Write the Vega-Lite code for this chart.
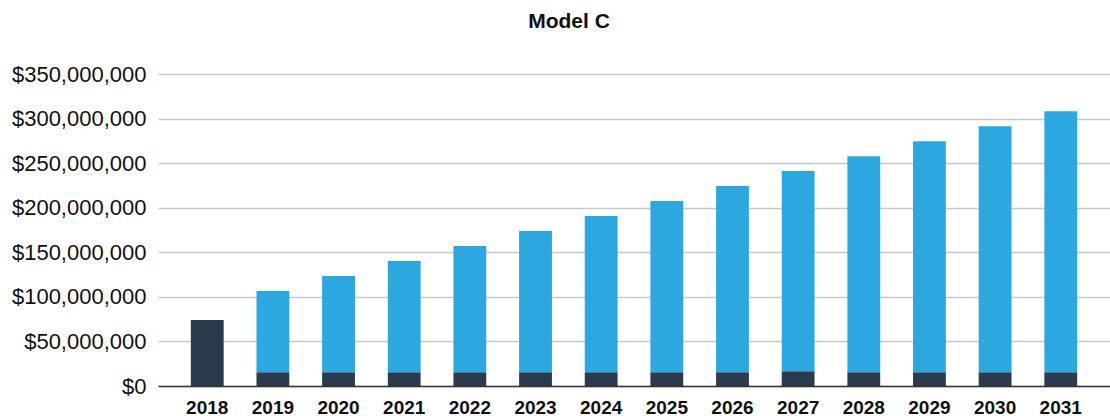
{
  "$schema": "https://vega.github.io/schema/vega-lite/v6.json",
  "autosize": "none",
  "width": 952,
  "height": 312,
  "padding": {"left": 158, "top": 74, "right": 0, "bottom": 30},
  "background": "white",
  "title": {
    "text": "Model C",
    "font": "Liberation Sans",
    "fontSize": 21,
    "fontWeight": "bold",
    "color": "#111111",
    "anchor": "middle",
    "frame": "group",
    "baseline": "alphabetic",
    "offset": 14,
    "dx": -65
  },
  "data": {
    "values": [
      {"year": "2018", "series": "Base", "value": 74000000},
      {"year": "2019", "series": "Base", "value": 15500000},
      {"year": "2019", "series": "Growth", "value": 91200000},
      {"year": "2020", "series": "Base", "value": 15500000},
      {"year": "2020", "series": "Growth", "value": 108000000},
      {"year": "2021", "series": "Base", "value": 15500000},
      {"year": "2021", "series": "Growth", "value": 124800000},
      {"year": "2022", "series": "Base", "value": 15500000},
      {"year": "2022", "series": "Growth", "value": 141600000},
      {"year": "2023", "series": "Base", "value": 15500000},
      {"year": "2023", "series": "Growth", "value": 158400000},
      {"year": "2024", "series": "Base", "value": 15500000},
      {"year": "2024", "series": "Growth", "value": 175300000},
      {"year": "2025", "series": "Base", "value": 15500000},
      {"year": "2025", "series": "Growth", "value": 192100000},
      {"year": "2026", "series": "Base", "value": 15500000},
      {"year": "2026", "series": "Growth", "value": 208900000},
      {"year": "2027", "series": "Base", "value": 16600000},
      {"year": "2027", "series": "Growth", "value": 224500000},
      {"year": "2028", "series": "Base", "value": 15500000},
      {"year": "2028", "series": "Growth", "value": 242300000},
      {"year": "2029", "series": "Base", "value": 15500000},
      {"year": "2029", "series": "Growth", "value": 259100000},
      {"year": "2030", "series": "Base", "value": 15500000},
      {"year": "2030", "series": "Growth", "value": 275900000},
      {"year": "2031", "series": "Base", "value": 15500000},
      {"year": "2031", "series": "Growth", "value": 292700000}
    ]
  },
  "mark": {"type": "bar"},
  "encoding": {
    "x": {
      "field": "year",
      "type": "ordinal",
      "scale": {"paddingInner": 0.5, "paddingOuter": 0.5},
      "axis": {
        "title": null,
        "labelAngle": 0,
        "labelFont": "Liberation Sans",
        "labelFontSize": 19,
        "labelFontWeight": "bold",
        "labelColor": "#111111",
        "labelPadding": 12,
        "ticks": false,
        "domain": true,
        "domainColor": "#333333",
        "domainWidth": 1.5,
        "grid": false
      }
    },
    "y": {
      "field": "value",
      "type": "quantitative",
      "stack": "zero",
      "scale": {"domain": [0, 350000000], "nice": false},
      "axis": {
        "title": null,
        "values": [0, 50000000, 100000000, 150000000, 200000000, 250000000, 300000000, 350000000],
        "format": "$,.0f",
        "labelFont": "Liberation Sans",
        "labelFontSize": 22,
        "labelColor": "#111111",
        "labelPadding": 12,
        "ticks": false,
        "domain": false,
        "grid": true,
        "gridColor": "#c8c8c8",
        "gridWidth": 1.5
      }
    },
    "color": {
      "field": "series",
      "type": "nominal",
      "scale": {"domain": ["Base", "Growth"], "range": ["#2c3a4e", "#2ca8e0"]},
      "legend": null
    },
    "order": {"field": "series", "sort": "ascending"}
  },
  "config": {"view": {"stroke": null}}
}
